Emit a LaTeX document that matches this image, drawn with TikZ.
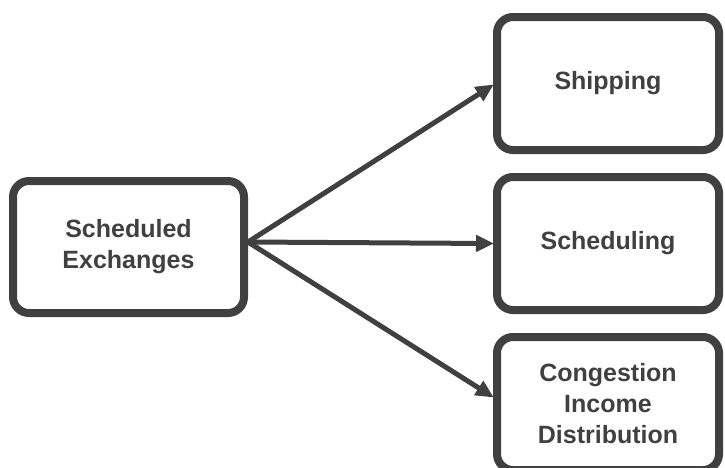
\documentclass[tikz,border=0pt]{standalone}
\usepackage{fontspec}
\setmainfont{Liberation Sans}
\usetikzlibrary{arrows.meta}
\definecolor{ink}{HTML}{404040}
\begin{document}
\begin{tikzpicture}[x=1pt,y=-1pt,
  box/.style={draw=ink, line width=8pt, rounded corners=16pt, fill=white,
    text=ink, align=center, inner sep=0pt,
    font=\fontsize{25}{31}\selectfont\bfseries},
  conn/.style={draw=ink, line width=5pt, -{Triangle[length=18pt,width=16pt]}, shorten >=-1pt}
]
\useasboundingbox (0,0) rectangle (725,467);
\node[box, minimum width=231pt, minimum height=132pt] (L) at (128.5,247) {Scheduled\\Exchanges};
\node[box, minimum width=222pt, minimum height=133pt] (A) at (608,83.5) {Shipping};
\node[box, minimum width=222pt, minimum height=133pt] (B) at (608,243.5) {Scheduling};
\node[box, minimum width=222pt, minimum height=133pt] (C) at (608,403.5) {Congestion\\Income\\Distribution};
\coordinate (o) at ([yshift=5pt]L.east);
\coordinate (ca) at ([yshift=-1.5pt]A.west);
\coordinate (cc) at ([yshift=6.5pt]C.west);
\draw[conn] (o) -- (ca);
\draw[conn] (o) -- (B.west);
\draw[conn] (o) -- (cc);
\end{tikzpicture}
\end{document}
